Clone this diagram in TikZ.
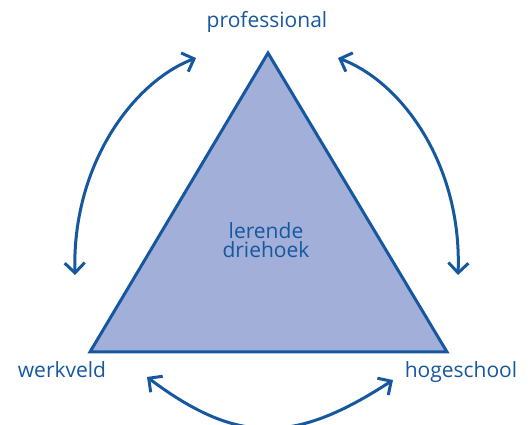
\documentclass[tikz,border=0pt]{standalone}
\usepackage{fontspec}
\setmainfont{Open Sans}
\usepackage{tikz}
\usepackage{xcolor}
\usetikzlibrary{arrows.meta}

\definecolor{lijnblauw}{RGB}{22,88,160}
\definecolor{vlakblauw}{RGB}{162,175,216}

\begin{document}
\begin{tikzpicture}[x=1pt, y=1pt,
        >={Straight Barb[length=10pt,width=20pt]},
        label/.style={text=lijnblauw, font=\fontsize{21}{19.5}\selectfont, anchor=base, inner sep=0pt},
        pijl/.style={lijnblauw, line width=3pt, <->}]
                \useasboundingbox (0,0) rectangle (532,425);
                \coordinate (t) at (268, 372);
                \coordinate (l) at (90, 73);
                \coordinate (r) at (447, 73);
                \draw[lijnblauw, fill=vlakblauw, line width=3pt, line join=miter] (t) -- (l) -- (r) -- cycle;
                \node[label, align=center, anchor=center] (m) at (266, 185) {lerende\\driehoek};
                \node[label] (p) at (267, 397) {professional};
                \node[label] (w) at (62, 47) {werkveld};
                \node[label] (h) at (461, 47) {hogeschool};
                % uiteinden van de pijlen
                \coordinate (lo) at (75, 150);
                \coordinate (lb) at (196, 367);
                \coordinate (rb) at (338, 367);
                \coordinate (ro) at (458, 150);
                \coordinate (ol) at (147, 48);
                \coordinate (or) at (393, 45);
                \draw[pijl] (lo) .. controls (72, 260) and (133, 343) .. (lb);
                \draw[pijl] (rb) .. controls (402, 343) and (462, 260) .. (ro);
                \draw[pijl] (ol) .. controls (239, -21) and (296, -18) .. (or);
            \end{tikzpicture}
\end{document}
